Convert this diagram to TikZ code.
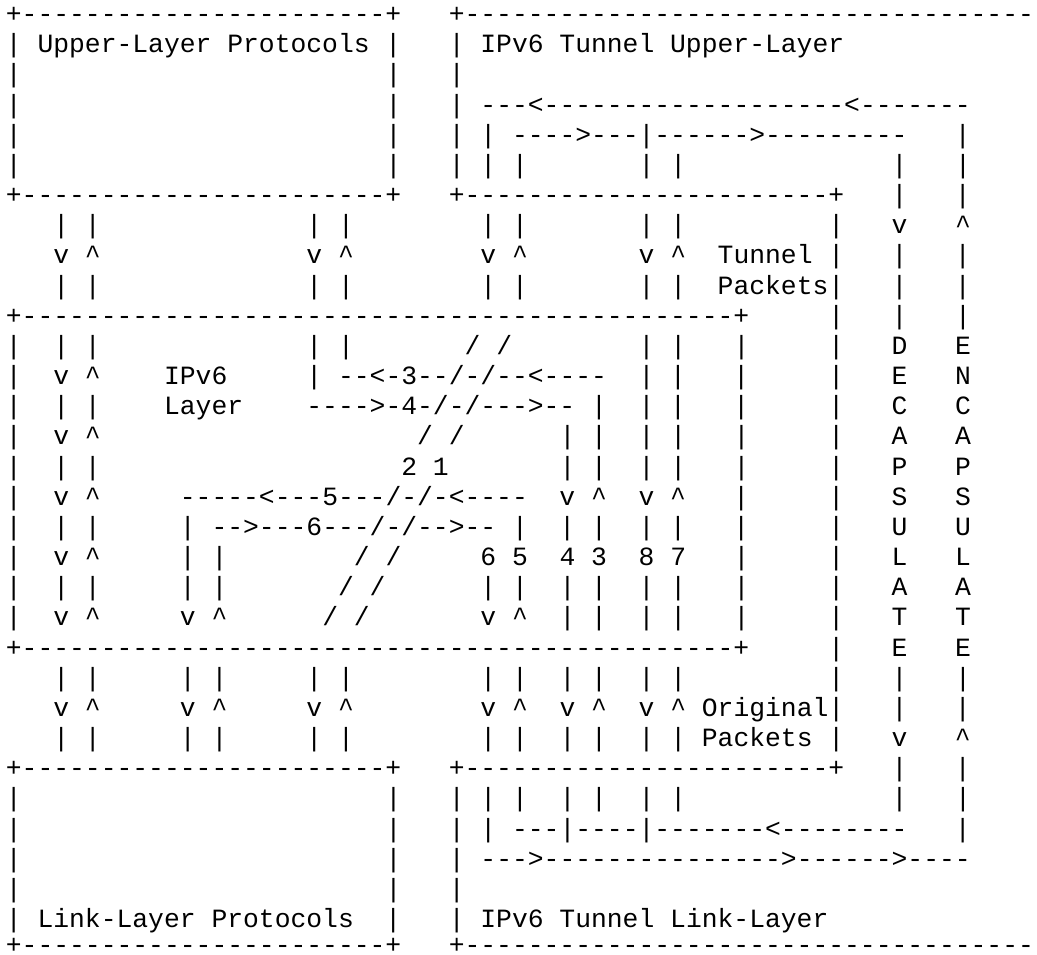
\documentclass[tikz,border=0pt]{standalone}
\usepackage{fontspec}
\setmonofont{Liberation Mono}

\newcommand{\gap}[1]{\hspace*{#1\fontdimen2\font}}
\newcommand{\dashes}[1]{\foreach \k in {1,...,#1}{-}}
\newcommand{\upmark}{\textasciicircum}

\tikzset{every picture/.style={line width=0.75pt}}
\tikzset{asciirow/.style={font=\ttfamily\fontsize{19.77pt}{22.63pt}\selectfont, anchor=base west, inner sep=0pt}}

\begin{document}
\begin{tikzpicture}[x=0.75pt,y=0.75pt,yscale=-1,xscale=1]
%set diagram left start at 0, and has height of 954
\path [fill=white] (0,0) rectangle (1037,954);
\useasboundingbox (0,0) rectangle (1037,954);

% Text Node
\draw (5.4,22.5) node [asciirow] (row0) {+\dashes{23}+\gap{3}+\dashes{36}};
% Text Node
\draw (5.4,52.67) node [asciirow] (row1) {|\gap{1}Upper-Layer Protocols\gap{1}|\gap{3}|\gap{1}IPv6 Tunnel Upper-Layer};
% Text Node
\draw (5.4,82.84) node [asciirow] (row2) {|\gap{23}|\gap{3}|};
% Text Node
\draw (5.4,113.01) node [asciirow] (row3) {|\gap{23}|\gap{3}|\gap{1}---<\dashes{19}<\dashes{7}};
% Text Node
\draw (5.4,143.18) node [asciirow] (row4) {|\gap{23}|\gap{3}|\gap{1}|\gap{1}---->---|------>\dashes{9}\gap{3}|};
% Text Node
\draw (5.4,173.35) node [asciirow] (row5) {|\gap{23}|\gap{3}|\gap{1}|\gap{1}|\gap{7}|\gap{1}|\gap{13}|\gap{3}|};
% Text Node
\draw (5.4,203.52) node [asciirow] (row6) {+\dashes{23}+\gap{3}+\dashes{23}+\gap{3}|\gap{3}|};
% Text Node
\draw (5.4,233.69) node [asciirow] (row7) {\gap{3}|\gap{1}|\gap{13}|\gap{1}|\gap{8}|\gap{1}|\gap{7}|\gap{1}|\gap{9}|\gap{3}v\gap{3}\upmark};
% Text Node
\draw (5.4,263.86) node [asciirow] (row8) {\gap{3}v\gap{1}\upmark\gap{13}v\gap{1}\upmark\gap{8}v\gap{1}\upmark\gap{7}v\gap{1}\upmark\gap{2}Tunnel\gap{1}|\gap{3}|\gap{3}|};
% Text Node
\draw (5.4,294.03) node [asciirow] (row9) {\gap{3}|\gap{1}|\gap{13}|\gap{1}|\gap{8}|\gap{1}|\gap{7}|\gap{1}|\gap{2}Packets|\gap{3}|\gap{3}|};
% Text Node
\draw (5.4,324.2) node [asciirow] (row10) {+\dashes{45}+\gap{5}|\gap{3}|\gap{3}|};
% Text Node
\draw (5.4,354.37) node [asciirow] (row11) {|\gap{2}|\gap{1}|\gap{13}|\gap{1}|\gap{7}/\gap{1}/\gap{8}|\gap{1}|\gap{3}|\gap{5}|\gap{3}D\gap{3}E};
% Text Node
\draw (5.4,384.54) node [asciirow] (row12) {|\gap{2}v\gap{1}\upmark\gap{4}IPv6\gap{5}|\gap{1}--<-3--/-/--<----\gap{2}|\gap{1}|\gap{3}|\gap{5}|\gap{3}E\gap{3}N};
% Text Node
\draw (5.4,414.71) node [asciirow] (row13) {|\gap{2}|\gap{1}|\gap{4}Layer\gap{4}---->-4-/-/--->--\gap{1}|\gap{2}|\gap{1}|\gap{3}|\gap{5}|\gap{3}C\gap{3}C};
% Text Node
\draw (5.4,444.88) node [asciirow] (row14) {|\gap{2}v\gap{1}\upmark\gap{20}/\gap{1}/\gap{6}|\gap{1}|\gap{2}|\gap{1}|\gap{3}|\gap{5}|\gap{3}A\gap{3}A};
% Text Node
\draw (5.4,475.05) node [asciirow] (row15) {|\gap{2}|\gap{1}|\gap{19}2\gap{1}1\gap{7}|\gap{1}|\gap{2}|\gap{1}|\gap{3}|\gap{5}|\gap{3}P\gap{3}P};
% Text Node
\draw (5.4,505.22) node [asciirow] (row16) {|\gap{2}v\gap{1}\upmark\gap{5}-----<---5---/-/-<----\gap{2}v\gap{1}\upmark\gap{2}v\gap{1}\upmark\gap{3}|\gap{5}|\gap{3}S\gap{3}S};
% Text Node
\draw (5.4,535.39) node [asciirow] (row17) {|\gap{2}|\gap{1}|\gap{5}|\gap{1}-->---6---/-/-->--\gap{1}|\gap{2}|\gap{1}|\gap{2}|\gap{1}|\gap{3}|\gap{5}|\gap{3}U\gap{3}U};
% Text Node
\draw (5.4,565.56) node [asciirow] (row18) {|\gap{2}v\gap{1}\upmark\gap{5}|\gap{1}|\gap{8}/\gap{1}/\gap{5}6\gap{1}5\gap{2}4\gap{1}3\gap{2}8\gap{1}7\gap{3}|\gap{5}|\gap{3}L\gap{3}L};
% Text Node
\draw (5.4,595.73) node [asciirow] (row19) {|\gap{2}|\gap{1}|\gap{5}|\gap{1}|\gap{7}/\gap{1}/\gap{6}|\gap{1}|\gap{2}|\gap{1}|\gap{2}|\gap{1}|\gap{3}|\gap{5}|\gap{3}A\gap{3}A};
% Text Node
\draw (5.4,625.9) node [asciirow] (row20) {|\gap{2}v\gap{1}\upmark\gap{5}v\gap{1}\upmark\gap{6}/\gap{1}/\gap{7}v\gap{1}\upmark\gap{2}|\gap{1}|\gap{2}|\gap{1}|\gap{3}|\gap{5}|\gap{3}T\gap{3}T};
% Text Node
\draw (5.4,656.07) node [asciirow] (row21) {+\dashes{45}+\gap{5}|\gap{3}E\gap{3}E};
% Text Node
\draw (5.4,686.24) node [asciirow] (row22) {\gap{3}|\gap{1}|\gap{5}|\gap{1}|\gap{5}|\gap{1}|\gap{8}|\gap{1}|\gap{2}|\gap{1}|\gap{2}|\gap{1}|\gap{9}|\gap{3}|\gap{3}|};
% Text Node
\draw (5.4,716.41) node [asciirow] (row23) {\gap{3}v\gap{1}\upmark\gap{5}v\gap{1}\upmark\gap{5}v\gap{1}\upmark\gap{8}v\gap{1}\upmark\gap{2}v\gap{1}\upmark\gap{2}v\gap{1}\upmark\gap{1}Original|\gap{3}|\gap{3}|};
% Text Node
\draw (5.4,746.58) node [asciirow] (row24) {\gap{3}|\gap{1}|\gap{5}|\gap{1}|\gap{5}|\gap{1}|\gap{8}|\gap{1}|\gap{2}|\gap{1}|\gap{2}|\gap{1}|\gap{1}Packets\gap{1}|\gap{3}v\gap{3}\upmark};
% Text Node
\draw (5.4,776.75) node [asciirow] (row25) {+\dashes{23}+\gap{3}+\dashes{23}+\gap{3}|\gap{3}|};
% Text Node
\draw (5.4,806.92) node [asciirow] (row26) {|\gap{23}|\gap{3}|\gap{1}|\gap{1}|\gap{2}|\gap{1}|\gap{2}|\gap{1}|\gap{13}|\gap{3}|};
% Text Node
\draw (5.4,837.09) node [asciirow] (row27) {|\gap{23}|\gap{3}|\gap{1}|\gap{1}---|----|-------<\dashes{8}\gap{3}|};
% Text Node
\draw (5.4,867.26) node [asciirow] (row28) {|\gap{23}|\gap{3}|\gap{1}--->\dashes{15}>\dashes{6}>----};
% Text Node
\draw (5.4,897.43) node [asciirow] (row29) {|\gap{23}|\gap{3}|};
% Text Node
\draw (5.4,927.6) node [asciirow] (row30) {|\gap{1}Link-Layer Protocols\gap{2}|\gap{3}|\gap{1}IPv6 Tunnel Link-Layer};
% Text Node
\draw (5.4,953.5) node [asciirow] (row31) {+\dashes{23}+\gap{3}+\dashes{36}};

\end{tikzpicture}
\end{document}
